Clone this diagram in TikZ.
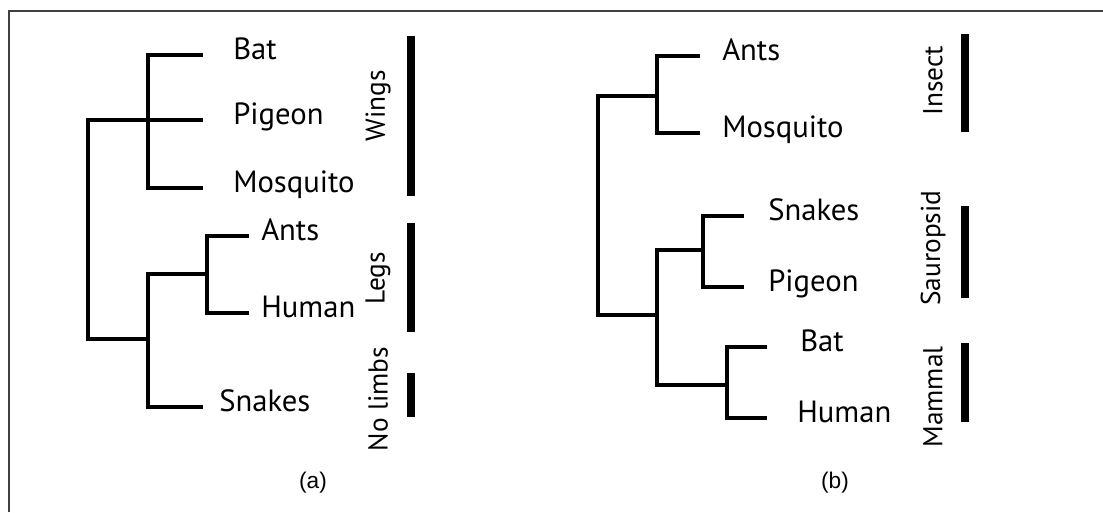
\documentclass[tikz,border=0pt]{standalone}
\usepackage{fontspec}
\setmainfont{PT Sans}
\newfontfamily\capfont{Liberation Sans}

\begin{document}
\begin{tikzpicture}[x=0.75pt, y=-0.75pt,
  branch/.style={line width=3.2pt},
  groupbar/.style={line width=6pt},
  taxon/.style={anchor=west, inner sep=0pt, text height=0.7em, text depth=0pt, font=\fontsize{23}{27}\selectfont},
  trait/.style={rotate=90, inner sep=0pt, font=\fontsize{20.5}{24}\selectfont},
  caption/.style={font=\capfont\fontsize{17}{20}\selectfont}]
  \useasboundingbox (0,0) rectangle (1103,512);
  % frame
  \draw[line width=1.2pt, black!75] (9,512) -- (9,11) -- (1103,11);

  % (a) tree by traits
  \coordinate (a-root) at (88,230);
  \coordinate (a-wn) at (148,120);   % wings
  \coordinate (a-ln) at (148,339);
  \coordinate (a-lg) at (207,274);   % legs
  \coordinate (a-bat) at (203,55);
  \coordinate (a-pig) at (203,120);
  \coordinate (a-mos) at (203,188);
  \coordinate (a-ant) at (249,236);
  \coordinate (a-hum) at (249,313);
  \coordinate (a-sna) at (203,407);
  \draw[branch] (a-wn) -| (a-root) |- (a-ln);
  \draw[branch] (a-bat) -| (a-wn) |- (a-mos);
  \draw[branch] (a-wn) -- (a-pig);
  \draw[branch] (a-lg) -| (a-ln) |- (a-sna);
  \draw[branch] (a-ant) -| (a-lg) |- (a-hum);
  \node[taxon] (ta-bat) at (233,55) {Bat};
  \node[taxon] (ta-pig) at (233,120) {Pigeon};
  \node[taxon] (ta-mos) at (233,188) {Mosquito};
  \node[taxon] (ta-ant) at (261,236) {Ants};
  \node[taxon] (ta-hum) at (261,313) {Human};
  \node[taxon] (ta-sna) at (219,407) {Snakes};
  \node[trait] (ga-win) at (378,106) {Wings};
  \node[trait] (ga-leg) at (378,278) {Legs};
  \node[trait] (ga-nol) at (378,399) {No limbs};
  \draw[groupbar] (411,36) -- (411,196);
  \draw[groupbar] (411,223) -- (411,332);
  \draw[groupbar] (411,373) -- (411,417);
  \node[caption] (cap-a) at (313,483) {(a)};

  % (b) tree by classes
  \coordinate (b-root) at (598,200);
  \coordinate (b-in) at (657,96);    % insect
  \coordinate (b-ln) at (657,315);
  \coordinate (b-sau) at (703,250);  % sauropsid
  \coordinate (b-mam) at (727,385);  % mammal
  \coordinate (b-ant) at (700,56);
  \coordinate (b-mos) at (700,133);
  \coordinate (b-sna) at (744,216);
  \coordinate (b-pig) at (744,287);
  \coordinate (b-bat) at (767,347);
  \coordinate (b-hum) at (767,418);
  \draw[branch] (b-in) -| (b-root) |- (b-ln);
  \draw[branch] (b-ant) -| (b-in) |- (b-mos);
  \draw[branch] (b-sau) -| (b-ln) |- (b-mam);
  \draw[branch] (b-sna) -| (b-sau) |- (b-pig);
  \draw[branch] (b-bat) -| (b-mam) |- (b-hum);
  \node[taxon] (tb-ant) at (722,56) {Ants};
  \node[taxon] (tb-mos) at (722,133) {Mosquito};
  \node[taxon] (tb-sna) at (768,216) {Snakes};
  \node[taxon] (tb-pig) at (768,287) {Pigeon};
  \node[taxon] (tb-bat) at (800,347) {Bat};
  \node[taxon] (tb-hum) at (797,418) {Human};
  \node[trait] (gb-ins) at (933,81) {Insect};
  \node[trait] (gb-sau) at (933,248) {Sauropsid};
  \node[trait] (gb-mam) at (933,397) {Mammal};
  \draw[groupbar] (965,34) -- (965,132);
  \draw[groupbar] (965,206) -- (965,298);
  \draw[groupbar] (965,343) -- (965,422);
  \node[caption] (cap-b) at (835,483) {(b)};
\end{tikzpicture}
\end{document}
